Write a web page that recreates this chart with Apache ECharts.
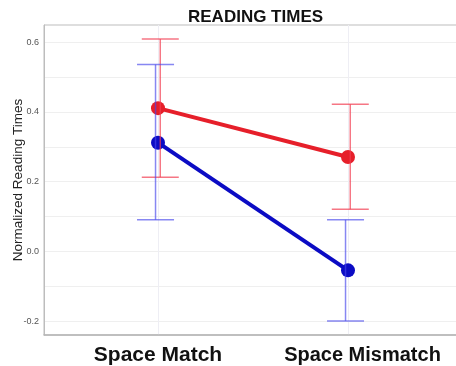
<!DOCTYPE html>
<html>
<head>
<meta charset="utf-8">
<script src="https://cdn.jsdelivr.net/npm/echarts@6/dist/echarts.min.js"></script>
<style>html,body{margin:0;padding:0;background:#fff}#c{width:456px;height:366px}</style>
</head>
<body>
<div id="c"></div>
<script>
const categories = ['Space Match', 'Space Mismatch'];
const categoryPos = [1, 2];
const redMean = [0.411, 0.271];
const redLow = [0.213, 0.121];
const redHigh = [0.609, 0.422];
const blueMean = [0.312, -0.054];
const blueLow = [0.091, -0.199];
const blueHigh = [0.536, 0.091];
const yTickLabels = [-0.2, 0.0, 0.2, 0.4, 0.6];
const yGridValues = [-0.2, -0.1, 0.0, 0.1, 0.2, 0.3, 0.4, 0.5, 0.6];

const RED = '#e61f2a', BLUE = '#0b0bc4';
const RED_ERR = 'rgba(242,60,80,0.7)', BLUE_ERR = 'rgba(70,70,235,0.65)';
const dodge = { red: 0.012, blue: -0.013 };

function errData(low, high, off) {
  return categoryPos.map((x, i) => [x + off, low[i], high[i]]);
}
function errSeries(name, low, high, off, color) {
  return {
    type: 'custom', name, z: 4, silent: true,
    data: errData(low, high, off),
    encode: { x: 0, y: [1, 2] },
    renderItem: function (params, api) {
      const x = api.value(0);
      const lo = api.coord([x, api.value(1)]);
      const hi = api.coord([x, api.value(2)]);
      const hw = 18.5;
      const st = { stroke: color, lineWidth: 1.5, fill: null };
      return {
        type: 'group', children: [
          { type: 'line', shape: { x1: lo[0], y1: lo[1], x2: hi[0], y2: hi[1] }, style: st },
          { type: 'line', shape: { x1: lo[0] - hw, y1: lo[1], x2: lo[0] + hw, y2: lo[1] }, style: st },
          { type: 'line', shape: { x1: hi[0] - hw, y1: hi[1], x2: hi[0] + hw, y2: hi[1] }, style: st }
        ]
      };
    }
  };
}
function lineSeries(name, mean, color) {
  return {
    type: 'line', name, z: 3, silent: true,
    data: categoryPos.map((x, i) => [x, mean[i]]),
    symbol: 'circle', symbolSize: 14,
    lineStyle: { color, width: 4 },
    itemStyle: { color }
  };
}

const chart = echarts.init(document.getElementById('c'), null, { renderer: 'canvas' });
chart.setOption({
  animation: false,
  backgroundColor: '#fff',
  title: {
    text: 'READING TIMES', left: 183, top: 4,
    textStyle: { fontFamily: 'Liberation Sans, Arial, sans-serif', fontWeight: 'bold', fontSize: 17, color: '#111' }
  },
  grid: { left: 44, top: 25, right: -6, bottom: 31, show: true, borderColor: '#bdbdbd', borderWidth: 1, containLabel: false, outerBoundsMode: 'none' },
  xAxis: {
    type: 'value', min: 0.4, max: 2.6,
    axisLine: { show: true, onZero: false, lineStyle: { color: '#b5b5b5', width: 1.5 } },
    axisTick: { show: false, customValues: categoryPos },
    splitLine: { show: true, lineStyle: { color: '#eeeef4', width: 1 } },
    axisLabel: {
      customValues: categoryPos, margin: 10,
      formatter: function (v) {
        const i = categoryPos.indexOf(v);
        return i === 0 ? '{a|' + categories[0] + '}' : '{b|' + categories[1] + '}';
      },
      rich: {
        a: { fontFamily: 'Liberation Sans, Arial, sans-serif', fontWeight: 'bold', fontSize: 21, color: '#111' },
        b: { fontFamily: 'Liberation Sans, Arial, sans-serif', fontWeight: 'bold', fontSize: 20, color: '#111', padding: [0, 0, 0, 29] }
      }
    }
  },
  yAxis: {
    type: 'value', min: -0.2394, max: 0.6494,
    name: 'Normalized Reading Times', nameLocation: 'middle', nameGap: 19, nameMoveOverlap: false,
    nameTextStyle: { fontFamily: 'Liberation Sans, Arial, sans-serif', fontSize: 13.5, color: '#222' },
    axisLine: { show: true, lineStyle: { color: '#bdbdbd', width: 1 } },
    axisTick: { show: false, customValues: yGridValues },
    splitLine: { show: true, lineStyle: { color: '#efefef', width: 1 } },
    axisLabel: {
      customValues: yTickLabels, margin: 5,
      fontFamily: 'Liberation Sans, Arial, sans-serif', fontSize: 9, color: '#555',
      formatter: v => v.toFixed(1)
    }
  },
  series: [
    lineSeries('red', redMean, RED),
    lineSeries('blue', blueMean, BLUE),
    errSeries('redErr', redLow, redHigh, dodge.red, RED_ERR),
    errSeries('blueErr', blueLow, blueHigh, dodge.blue, BLUE_ERR)
  ]
});
</script>
</body>
</html>
